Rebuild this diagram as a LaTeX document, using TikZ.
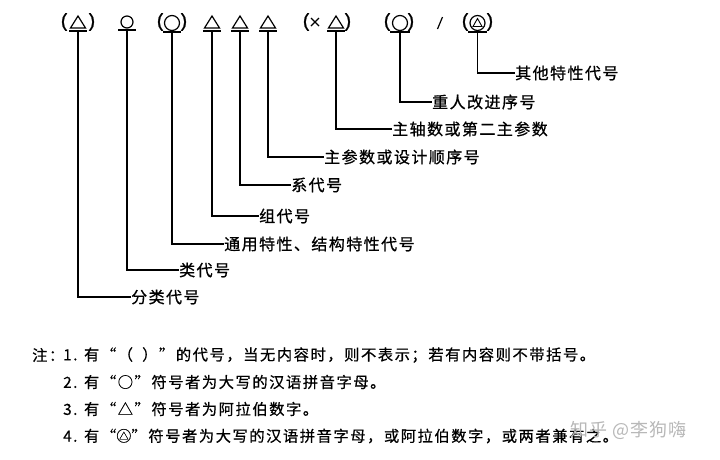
\documentclass[tikz,border=0pt]{standalone}
\usepackage{fontspec}
\setmainfont{Noto Sans CJK SC}
\newfontfamily\cjk[LetterSpace=9,FakeBold=0.8]{Noto Sans CJK SC}
\newfontfamily\notef[LetterSpace=10,FakeBold=0.6]{Noto Sans CJK SC}
\newfontfamily\wmf[LetterSpace=6]{Noto Sans CJK SC}
\newfontfamily\symf[FakeBold=1.2]{Liberation Sans}
\newcommand{\cirtri}{\ooalign{○\cr\hidewidth\raisebox{0.14em}{\scalebox{0.62}{△}}\hidewidth\cr}}
\begin{document}
\begin{tikzpicture}[x=1pt,y=-1pt,
  lbl/.style={font=\cjk\fontsize{16}{16}\selectfont, anchor=west, inner sep=0pt},
  note/.style={font=\notef\fontsize{15.3}{15.3}\selectfont, anchor=west, inner sep=0pt},
  conn/.style={line width=1.1pt},
  sym/.style={line width=1.2pt},
  par/.style={font=\symf\fontsize{19}{19}\selectfont, inner sep=0pt},
  wmark/.style={font=\wmf\fontsize{18}{18}\selectfont, anchor=west, inner sep=0pt, text=black!28}]
\useasboundingbox (0,0) rectangle (720,459);
\fill[white] (0,0) rectangle (720,459);

% ---- top row of symbols ----
% 1 (triangle)
\node[par] (p1l) at (64,22) {(};
\node[par] (p1r) at (92,22) {)};
\draw[sym] (70.5,28) -- (85.5,28) -- (78,16) -- cycle;
\draw[sym] (69,31) -- (87,31);
\coordinate (s1) at (78,31);
% 2 circle
\draw[sym] (127,22) circle (6);
\draw[sym] (118,30) -- (136,30);
\coordinate (s2) at (127,30);
% 3 (circle)
\node[par] (p3l) at (160,22) {(};
\node[par] (p3r) at (184,22) {)};
\draw[sym] (172,23) circle (7.5);
\draw[sym] (163,32) -- (181,32);
\coordinate (s3) at (172,32);
% 4,5,6 triangles
\foreach \cx/\nm in {212/s4,240/s5,268/s6}{
  \draw[sym] (\cx-7.5,28) -- (\cx+7.5,28) -- (\cx,16) -- cycle;
  \draw[sym] (\cx-9,31) -- (\cx+9,31);
  \coordinate (\nm) at (\cx,31);
}
% 7 (x triangle)
\node[par] (p7l) at (306,22) {(};
\node[par] (p7r) at (348,22) {)};
\draw[sym] (311,18) -- (319,26) (311,26) -- (319,18);
\draw[sym] (328.5,28) -- (343.5,28) -- (336,16) -- cycle;
\draw[sym] (327,31) -- (345,31);
\coordinate (s7) at (336,31);
% 8 (circle)
\node[par] (p8l) at (387,22) {(};
\node[par] (p8r) at (411,22) {)};
\draw[sym] (400,23) circle (7.5);
\draw[sym] (390,32) -- (410,32);
\coordinate (s8) at (400,32);
% slash
\draw[sym] (437.5,29) -- (442.5,17);
% 9 (circle with triangle)
\node[par] (p9l) at (465,22) {(};
\node[par] (p9r) at (490,22) {)};
\draw[sym] (477.5,23) circle (7.5);
\draw[line width=0.9pt] (473,26.5) -- (482,26.5) -- (477.5,18.5) -- cycle;
\draw[sym] (468,32) -- (487,32);
\coordinate (s9) at (477.5,32);

% ---- labels ----
\node[lbl] (l1) at (131,297) {分类代号};
\node[lbl] (l2) at (179,270) {类代号};
\node[lbl] (l3) at (224,244) {通用特性、结构特性代号};
\node[lbl] (l4) at (259,216) {组代号};
\node[lbl] (l5) at (291,185) {系代号};
\node[lbl] (l6) at (324,157) {主参数或设计顺序号};
\node[lbl] (l7) at (392,129) {主轴数或第二主参数};
\node[lbl] (l8) at (432,102) {重人改进序号};
\node[lbl] (l9) at (515,73) {其他特性代号};

% ---- connectors ----
\foreach \i in {1,...,9}{
  \draw[conn] (s\i) |- (l\i.west);
}

% ---- notes ----
\node[note] (n0) at (32,355) {注：};
\node[note] (n1) at (63,355) {1. 有“（\hspace{0.6em}）”的代号，当无内容时，则不表示；若有内容则不带括号。};
\node[note] (n2) at (63,382) {2. 有“○”符号者为大写的汉语拼音字母。};
\node[note] (n3) at (63,409) {3. 有“△”符号者为阿拉伯数字。};
\node[note] (n4) at (63,436) {4. 有“\cirtri”符号者为大写的汉语拼音字母，或阿拉伯数字，或两者兼有之。};
\node[wmark] (wm) at (570,430) {知乎 @李狗嗨};
\end{tikzpicture}
\end{document}
